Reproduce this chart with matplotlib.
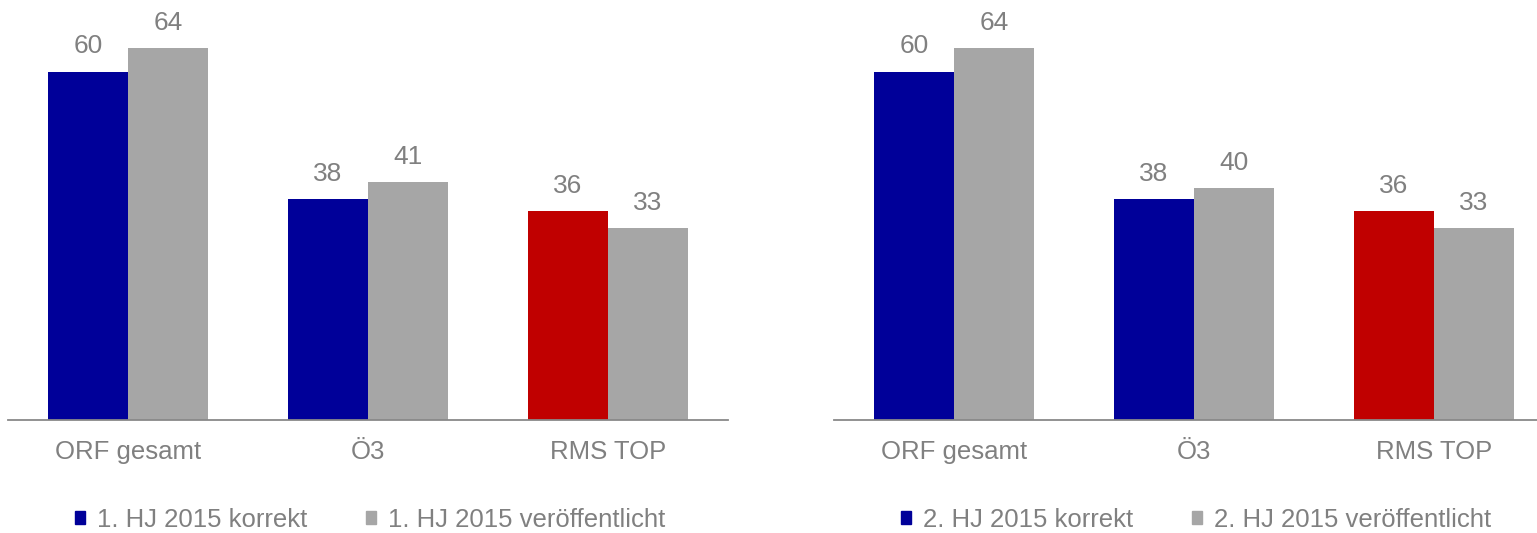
import matplotlib
matplotlib.use("Agg")
import matplotlib.pyplot as plt
from matplotlib.patches import Patch
import numpy as np

plt.rcParams['font.family'] = ['Liberation Sans', 'DejaVu Sans']

categories = ["ORF gesamt", "Ö3", "RMS TOP"]
h1_korrekt = [60, 38, 36]
h1_veroeff = [64, 41, 33]
h2_korrekt = [60, 38, 36]
h2_veroeff = [64, 40, 33]
legend_left = ["1. HJ 2015 korrekt", "1. HJ 2015 veröffentlicht"]
legend_right = ["2. HJ 2015 korrekt", "2. HJ 2015 veröffentlicht"]

BLUE = "#000099"
RED = "#C00000"
GRAY = "#A6A6A6"
TXT = "#808080"
AXC = "#898989"
korrekt_colors = [BLUE, BLUE, RED]

W, H = 1537, 533
FS = 18.5
fig = plt.figure(figsize=(W / 100, H / 100), dpi=100)

def panel(left_px, korr, veroeff, labels):
    ax = fig.add_axes([left_px / W, (H - 420) / H, 720 / W, 420 / H])
    x = np.arange(len(categories))
    bw = 1 / 3
    b1 = ax.bar(x - bw / 2, korr, bw, color=korrekt_colors, linewidth=0)
    b2 = ax.bar(x + bw / 2, veroeff, bw, color=GRAY, linewidth=0)
    ax.bar_label(b1, padding=9.5, fontsize=19, color=TXT)
    ax.bar_label(b2, padding=9.5, fontsize=19, color=TXT)
    ax.set_xlim(-0.5, 2.5)
    ax.set_ylim(0, 72.35)
    ax.set_xticks(x)
    ax.set_xticklabels(categories, fontsize=FS, color=TXT)
    ax.tick_params(axis='x', length=0, pad=14.5)
    ax.set_yticks([])
    for s in ["top", "left", "right"]:
        ax.spines[s].set_visible(False)
    ax.spines["bottom"].set_color(AXC)
    ax.spines["bottom"].set_linewidth(1.3)
    ax.patch.set_visible(False)
    handles = [Patch(color=BLUE), Patch(color=GRAY)]
    cx = (left_px + 362) / W
    fig.legend(handles, labels, loc='center', bbox_to_anchor=(cx, 13 / H),
               ncol=2, frameon=False, fontsize=18.5, labelcolor=TXT,
               handlelength=0.4, handleheight=0.4, handletextpad=0.45,
               columnspacing=2.3, borderpad=0, borderaxespad=0)
    return ax

panel(8, h1_korrekt, h1_veroeff, legend_left)
panel(834, h2_korrekt, h2_veroeff, legend_right)

fig.savefig("out.png", dpi=100)
